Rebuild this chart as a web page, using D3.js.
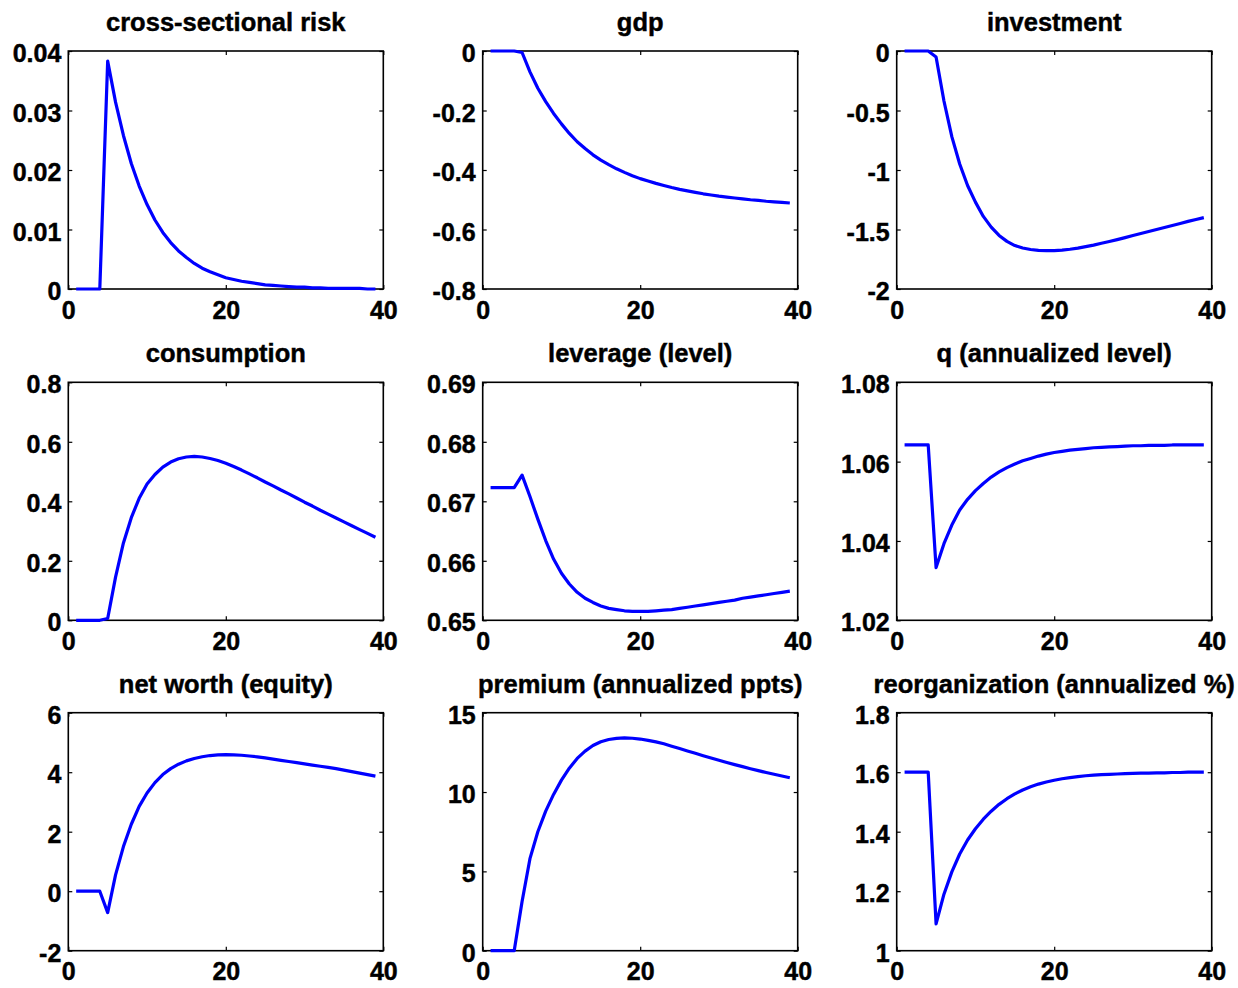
<!DOCTYPE html>
<html>
<head>
<meta charset="utf-8">
<script src="https://cdn.jsdelivr.net/npm/d3@7"></script>
<style>
  body { margin: 0; background: #fff; }
  svg { display: block; }
  text { font-family: "Liberation Sans", Arial, sans-serif; font-weight: bold; fill: #000;
         stroke: #000; stroke-width: 0.45px; }
</style>
</head>
<body>
<div id="chart"></div>
<script>
// quarters after the shock (horizontal axis)
const periods = [1, 2, 3, 4, 5, 6, 7, 8, 9, 10, 11, 12, 13, 14, 15, 16, 17, 18, 19, 20,
    21, 22, 23, 24, 25, 26, 27, 28, 29, 30, 31, 32, 33, 34, 35, 36, 37, 38, 39];
const xTicks = [0, 20, 40];

const crossRisk = [0, 0, 0, 0, 0.0383, 0.0314, 0.0258, 0.0211, 0.0173, 0.0142, 0.0116, 0.0095,
    0.0078, 0.0064, 0.0053, 0.0043, 0.0035, 0.0029, 0.0024, 0.0019, 0.0016, 0.0013, 0.0011,
    0.0009, 0.0007, 0.0006, 0.0005, 0.0004, 0.0003, 0.0003, 0.0002, 0.0002, 0.0001, 0.0001,
    0.0001, 0.0001, 0.0001, 0, 0];
const gdp = [0, 0, 0, 0, -0.005, -0.07, -0.125, -0.17, -0.21, -0.245, -0.277, -0.305, -0.328,
    -0.349, -0.367, -0.382, -0.396, -0.408, -0.419, -0.429, -0.437, -0.445, -0.452, -0.459,
    -0.465, -0.470, -0.475, -0.480, -0.484, -0.488, -0.491, -0.494, -0.497, -0.500, -0.502,
    -0.505, -0.507, -0.509, -0.511];
const investment = [0, 0, 0, 0, -0.05, -0.42, -0.72, -0.95, -1.13, -1.27, -1.39, -1.48, -1.55,
    -1.60, -1.635, -1.655, -1.668, -1.675, -1.678, -1.677, -1.673, -1.666, -1.656, -1.644,
    -1.631, -1.616, -1.601, -1.585, -1.568, -1.551, -1.534, -1.517, -1.5, -1.483, -1.466,
    -1.449, -1.432, -1.416, -1.40];
const consumption = [0, 0, 0, 0, 0.006, 0.145, 0.26, 0.345, 0.41, 0.458, 0.49, 0.515, 0.532,
    0.543, 0.549, 0.551, 0.549, 0.544, 0.537, 0.528, 0.517, 0.505, 0.492, 0.479, 0.465, 0.452,
    0.438, 0.425, 0.411, 0.397, 0.384, 0.370, 0.357, 0.344, 0.331, 0.318, 0.305, 0.292, 0.279];
const leverage = [0.6723, 0.6723, 0.6723, 0.6723, 0.6744, 0.6708, 0.6670, 0.6634, 0.6603,
    0.6579, 0.6561, 0.6547, 0.6537, 0.6530, 0.6524, 0.6520, 0.6518, 0.6516, 0.6515, 0.6515,
    0.6515, 0.6516, 0.6517, 0.6518, 0.6520, 0.6522, 0.6524, 0.6526, 0.6528, 0.6530, 0.6532,
    0.6534, 0.6537, 0.6539, 0.6541, 0.6543, 0.6545, 0.6547, 0.6549];
const qLevel = [1.0642, 1.0642, 1.0642, 1.0642, 1.0333, 1.0393, 1.0440, 1.0478, 1.0505, 1.0527,
    1.0545, 1.0561, 1.0574, 1.0585, 1.0594, 1.0602, 1.0608, 1.0614, 1.0619, 1.0623, 1.0626,
    1.0629, 1.0631, 1.0633, 1.0635, 1.0636, 1.0637, 1.0638, 1.0639, 1.0640, 1.0640, 1.0641,
    1.0641, 1.0641, 1.0642, 1.0642, 1.0642, 1.0642, 1.0642];
const netWorth = [0, 0, 0, 0, -0.72, 0.55, 1.5, 2.25, 2.85, 3.3, 3.65, 3.92, 4.12, 4.27, 4.38,
    4.46, 4.52, 4.56, 4.58, 4.59, 4.585, 4.57, 4.545, 4.515, 4.48, 4.44, 4.40, 4.36, 4.32, 4.28,
    4.24, 4.20, 4.16, 4.12, 4.07, 4.02, 3.97, 3.92, 3.87];
const premium = [0, 0, 0, 0, 3.1, 5.8, 7.5, 8.8, 9.85, 10.75, 11.5, 12.12, 12.58, 12.93, 13.17,
    13.31, 13.38, 13.41, 13.39, 13.34, 13.26, 13.16, 13.04, 12.89, 12.74, 12.59, 12.44, 12.29,
    12.14, 12.0, 11.86, 11.73, 11.6, 11.47, 11.35, 11.23, 11.12, 11.01, 10.9];
const reorganization = [1.6, 1.6, 1.6, 1.6, 1.09, 1.19, 1.265, 1.325, 1.372, 1.41, 1.442, 1.469,
    1.492, 1.511, 1.527, 1.54, 1.551, 1.56, 1.567, 1.573, 1.578, 1.582, 1.585, 1.588, 1.59,
    1.592, 1.593, 1.594, 1.595, 1.596, 1.597, 1.597, 1.598, 1.598, 1.599, 1.599, 1.6, 1.6, 1.6];

const titles = ["cross-sectional risk", "gdp", "investment",
    "consumption", "leverage (level)", "q (annualized level)",
    "net worth (equity)", "premium (annualized ppts)", "reorganization (annualized %)"];
const series = [crossRisk, gdp, investment, consumption, leverage, qLevel,
    netWorth, premium, reorganization];
const yTicks = [
    [0, 0.01, 0.02, 0.03, 0.04],
    [-0.8, -0.6, -0.4, -0.2, 0],
    [-2, -1.5, -1, -0.5, 0],
    [0, 0.2, 0.4, 0.6, 0.8],
    [0.65, 0.66, 0.67, 0.68, 0.69],
    [1.02, 1.04, 1.06, 1.08],
    [-2, 0, 2, 4, 6],
    [0, 5, 10, 15],
    [1, 1.2, 1.4, 1.6, 1.8]];

const width = 1238, height = 988;
const colLeft = [68.3, 482.7, 896.7];
const rowTop = [51, 382.3, 712.7];
const pw = 315, ph = 238;
const tickLen = 4;

const svg = d3.select("#chart").append("svg")
    .attr("width", width)
    .attr("height", height);

svg.append("rect").attr("width", width).attr("height", height).attr("fill", "#fff");

const fmt = v => String(+v.toFixed(4));

for (let i = 0; i < 9; i++) {
    let g = svg.append("g")
        .attr("transform", "translate(" + colLeft[i % 3] + "," + rowTop[Math.floor(i / 3)] + ")");

    let ticks = yTicks[i];
    let x = d3.scaleLinear().domain([0, 40]).range([0, pw]);
    let y = d3.scaleLinear().domain([ticks[0], ticks[ticks.length - 1]]).range([ph, 0]);

    // ticks point inward on all four sides, like a boxed matlab axes
    g.append("g")
        .attr("transform", "translate(0," + ph + ")")
        .call(d3.axisBottom(x).tickValues(xTicks).tickSizeInner(-tickLen).tickSizeOuter(0)
            .tickPadding(12).tickFormat(fmt));
    g.append("g")
        .call(d3.axisTop(x).tickValues(xTicks).tickSizeInner(-tickLen).tickSizeOuter(0)
            .tickFormat(""));
    g.append("g")
        .call(d3.axisLeft(y).tickValues(ticks).tickSizeInner(-tickLen).tickSizeOuter(0)
            .tickPadding(7).tickFormat(fmt));
    g.append("g")
        .attr("transform", "translate(" + pw + ",0)")
        .call(d3.axisRight(y).tickValues(ticks).tickSizeInner(-tickLen).tickSizeOuter(0)
            .tickFormat(""));

    g.selectAll(".domain").remove();
    g.selectAll(".tick line").attr("stroke", "#000").attr("stroke-width", 1.2);
    g.selectAll(".tick text")
        .style("font-size", "25px")
        .attr("fill", "#000");
    g.selectAll(".tick text")
        .filter(function () { return this.getAttribute("x") !== null && +this.getAttribute("x") < 0; })
        .attr("dy", "0.42em");

    g.append("rect")
        .attr("width", pw)
        .attr("height", ph)
        .attr("fill", "none")
        .attr("stroke", "#000")
        .attr("stroke-width", 1.6);

    let line = d3.line()
        .x((d, j) => x(periods[j]))
        .y(d => y(d));

    g.append("path")
        .datum(series[i])
        .attr("d", line)
        .attr("fill", "none")
        .attr("stroke", "#0000ff")
        .attr("stroke-width", 3.2)
        .attr("stroke-linejoin", "round");

    g.append("text")
        .attr("x", pw / 2)
        .attr("y", -20)
        .attr("text-anchor", "middle")
        .style("font-size", "25.5px")
        .text(titles[i]);
}
</script>
</body>
</html>
